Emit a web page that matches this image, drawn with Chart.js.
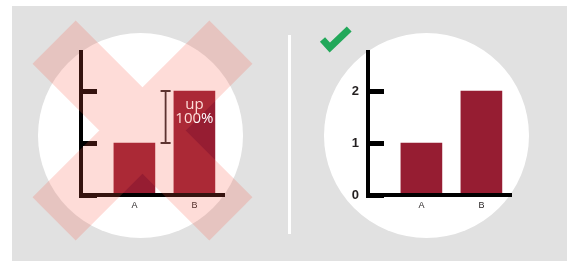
<!DOCTYPE html>
<html>
<head>
<meta charset="utf-8">
<script src="https://cdn.jsdelivr.net/npm/chart.js@4"></script>
<style>
html,body{margin:0;padding:0;background:#fff;}
#stage{position:relative;width:567px;height:261px;overflow:hidden;}
.gray{position:absolute;left:12px;top:6px;width:555px;height:255px;background:#e1e1e1;}
.circle{position:absolute;width:205px;height:205px;border-radius:50%;background:#fff;}
.divider{position:absolute;left:288px;top:35px;width:3px;height:199px;background:#fff;}
canvas{position:absolute;left:0;top:0;}
</style>
</head>
<body>
<div id="stage">
  <div class="gray"></div>
  <div class="circle" style="left:38px;top:33px"></div>
  <div class="circle" style="left:324px;top:33px"></div>
  <div class="divider"></div>
  <canvas id="leftChart" width="567" height="261"></canvas>
  <canvas id="rightChart" width="567" height="261"></canvas>
</div>
<script>
// ---- data ----
const categories = ['A', 'B'];
const values = [1, 2];
const yTickValues = [0, 1, 2];
const yTickLabels = ['0', '1', '2'];
const changeLabel = ['up', '100%'];

// ---- layout constants ----
const X_MIN = 0.11, X_MAX = 2.5, Y_MAX = 2.75;
const PX_PER_CAT = 60;
const BAR_COLOR = '#961d32';

function makeChart(id, axisX, showY, plugins) {
  const right = axisX + PX_PER_CAT * (X_MAX - X_MIN);
  return new Chart(document.getElementById(id), {
    type: 'bar',
    data: {
      datasets: [{
        data: categories.map((c, i) => ({ x: i + 1, y: values[i] })),
        backgroundColor: BAR_COLOR,
        barThickness: 41
      }]
    },
    options: {
      responsive: false,
      animation: false,
      events: [],
      layout: { padding: { left: 0, top: 52, right: 567 - right, bottom: 0 } },
      plugins: { legend: { display: false }, tooltip: { enabled: false } },
      scales: {
        x: {
          type: 'linear', min: X_MIN, max: X_MAX, offset: false,
          afterFit: s => { s.height = 66; },
          afterBuildTicks: s => { s.ticks = categories.map((c, i) => ({ value: i + 1 })); },
          grid: { display: false, drawTicks: false, offset: false },
          border: { display: true, color: '#000', width: 4, z: 1 },
          ticks: {
            padding: 5, color: '#231f20', autoSkip: false, maxRotation: 0,
            font: { family: 'Liberation Sans', size: 9 },
            callback: v => categories[Math.round(v) - 1] ?? ''
          }
        },
        y: {
          min: 0, max: Y_MAX,
          afterFit: s => { s.width = axisX; },
          afterBuildTicks: s => { s.ticks = yTickValues.map(v => ({ value: v })); },
          grid: { drawOnChartArea: false, drawTicks: true, tickLength: -16, tickWidth: 5, tickColor: '#000', color: '#000' },
          border: { display: true, color: '#000', width: 4, z: 1 },
          ticks: {
            display: showY, padding: 25, color: '#231f20',
            font: { family: 'Liberation Sans', size: 13, weight: 'bold' },
            callback: (v, i) => yTickLabels[i]
          }
        }
      }
    },
    plugins
  });
}

// bracket + "up 100%" note on the misleading chart
const notePlugin = {
  id: 'note',
  afterDatasetsDraw(chart) {
    const { ctx, scales: { x, y } } = chart;
    const bx = x.getPixelForValue(2) - 28.8;
    const yTop = y.getPixelForValue(values[1]);
    const yBot = y.getPixelForValue(values[0]);
    ctx.save();
    ctx.strokeStyle = '#33292b';
    ctx.lineWidth = 1.8;
    ctx.beginPath();
    ctx.moveTo(bx, yTop); ctx.lineTo(bx, yBot);
    ctx.moveTo(bx - 5, yTop); ctx.lineTo(bx + 5, yTop);
    ctx.moveTo(bx - 5, yBot); ctx.lineTo(bx + 5, yBot);
    ctx.stroke();
    const cx = x.getPixelForValue(2);
    ctx.fillStyle = '#fff';
    ctx.font = '15px "Open Sans"';
    ctx.textAlign = 'center';
    ctx.textBaseline = 'alphabetic';
    ctx.fillText(changeLabel[0], cx, yTop + 18);
    ctx.fillText(changeLabel[1], cx, yTop + 32);
    ctx.restore();
  }
};

// big translucent X over the misleading chart
const crossPlugin = {
  id: 'cross',
  afterDraw(chart) {
    const ctx = chart.ctx;
    ctx.save();
    ctx.translate(142.5, 130.5);
    ctx.fillStyle = 'rgba(250,90,72,0.21)';
    ctx.beginPath();
    ctx.rotate(Math.PI / 4);
    ctx.rect(-125, -30.5, 250, 61);
    ctx.rotate(-Math.PI / 2);
    ctx.rect(-125, -30.5, 250, 61);
    ctx.fill('nonzero');
    ctx.restore();
  }
};

// green check mark for the correct chart
const checkPlugin = {
  id: 'check',
  beforeDraw(chart) {
    const ctx = chart.ctx;
    ctx.save();
    ctx.strokeStyle = '#22a85a';
    ctx.lineWidth = 7;
    ctx.lineJoin = 'miter';
    ctx.lineCap = 'butt';
    ctx.beginPath();
    ctx.moveTo(322.5, 39.5);
    ctx.lineTo(329.8, 47.5);
    ctx.lineTo(349.2, 29);
    ctx.stroke();
    ctx.restore();
  }
};

makeChart('leftChart', 81, false, [notePlugin, crossPlugin]);
makeChart('rightChart', 368, true, [checkPlugin]);
</script>
</body>
</html>
